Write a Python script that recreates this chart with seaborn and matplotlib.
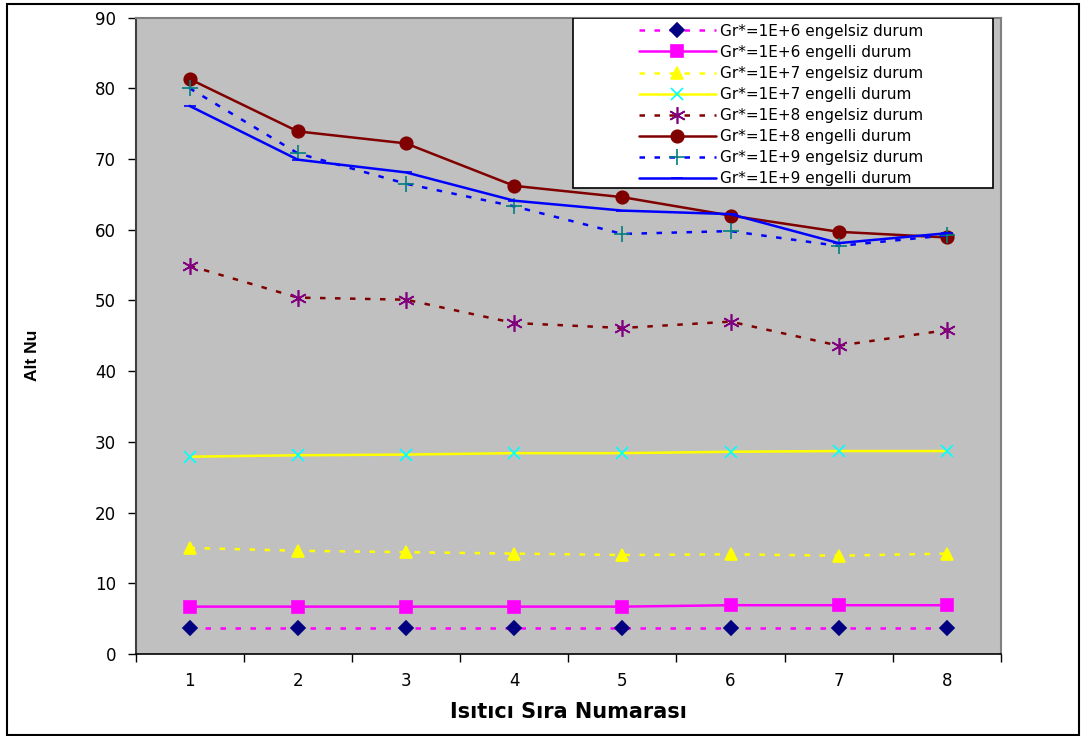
import numpy as np
import pandas as pd
import matplotlib
matplotlib.use("Agg")
import matplotlib.pyplot as plt
from matplotlib.patches import Rectangle
from matplotlib.ticker import FixedLocator, NullFormatter
import seaborn as sns

# Veri
isitici = [1, 2, 3, 4, 5, 6, 7, 8]

gr1e6_engelsiz = [3.7, 3.7, 3.7, 3.7, 3.7, 3.7, 3.7, 3.7]
gr1e6_engelli = [6.7, 6.7, 6.7, 6.7, 6.7, 6.9, 6.9, 6.9]
gr1e7_engelsiz = [15.0, 14.6, 14.4, 14.2, 14.0, 14.1, 13.9, 14.2]
gr1e7_engelli = [27.9, 28.1, 28.2, 28.4, 28.4, 28.6, 28.7, 28.7]
gr1e8_engelsiz = [54.9, 50.4, 50.1, 46.8, 46.1, 47.0, 43.6, 45.8]
gr1e8_engelli = [81.3, 73.9, 72.2, 66.2, 64.6, 62.0, 59.7, 58.9]
gr1e9_engelsiz = [80.0, 70.8, 66.5, 63.3, 59.4, 59.8, 57.7, 59.2]
gr1e9_engelli = [77.5, 69.9, 68.1, 64.1, 62.7, 62.2, 58.1, 59.5]

etiketler = [
    "Gr*=1E+6 engelsiz durum", "Gr*=1E+6 engelli durum",
    "Gr*=1E+7 engelsiz durum", "Gr*=1E+7 engelli durum",
    "Gr*=1E+8 engelsiz durum", "Gr*=1E+8 engelli durum",
    "Gr*=1E+9 engelsiz durum", "Gr*=1E+9 engelli durum",
]
seriler = [gr1e6_engelsiz, gr1e6_engelli, gr1e7_engelsiz, gr1e7_engelli,
           gr1e8_engelsiz, gr1e8_engelli, gr1e9_engelsiz, gr1e9_engelli]

# Çizgi stilleri: (çizgi rengi, çizgi tipi, marker, marker rengi, marker boyutu)
kesik = (0, (2.2, 3.8))
stiller = [
    ("#FF00FF", kesik, "D", "#000080", 7),
    ("#FF00FF", "-", "s", "#FF00FF", 8),
    ("#FFFF00", kesik, "^", "#FFFF00", 9),
    ("#FFFF00", "-", "x", "#00FFFF", 9),
    ("#800000", kesik, (6, 2, 0), "#800080", 12),
    ("#800000", "-", "o", "#800000", 9),
    ("#0000FF", kesik, "+", "#008080", 11),
    ("#0000FF", "-", "_", "#0000FF", 8),
]

sns.set_style("white")
plt.rcParams["font.family"] = ["DejaVu Sans"]
plt.rcParams["text.color"] = "black"
plt.rcParams["axes.labelcolor"] = "black"
plt.rcParams["xtick.color"] = "black"
plt.rcParams["ytick.color"] = "black"

fig = plt.figure(figsize=(10.84, 7.36), dpi=100)
ax = fig.add_axes([0.125, 0.1114, 0.7984, 0.8648])
ax.set_facecolor("#C0C0C0")

for etiket, y, (renk, ls, mk, mrenk, ms) in zip(etiketler, seriler, stiller):
    df = pd.DataFrame({"x": isitici, "y": y})
    sns.lineplot(data=df, x="x", y="y", ax=ax, color=renk, linestyle=ls,
                 linewidth=1.8, marker=mk, markersize=ms,
                 markerfacecolor=mrenk, markeredgecolor=mrenk,
                 markeredgewidth=1.2, label=etiket)

ax.set_xlim(0.5, 8.5)
ax.set_ylim(0, 90)
ax.set_yticks(np.arange(0, 91, 10))
ax.set_xticks(isitici)
ax.xaxis.set_minor_locator(FixedLocator(np.arange(0.5, 9, 1)))
ax.xaxis.set_minor_formatter(NullFormatter())
ax.tick_params(axis="x", which="major", length=0, pad=13, labelsize=12)
ax.tick_params(axis="x", which="minor", length=6, width=1, direction="out",
               bottom=True, color="black")
ax.tick_params(axis="y", length=6, width=1, direction="out", left=True,
               pad=8, labelsize=12, color="black")
ax.grid(False)

ax.set_xlabel("Isıtıcı Sıra Numarası", fontsize=15, fontweight="bold")
ax.set_ylabel("Alt Nu", fontsize=12.5, fontweight="bold",
              family=["Liberation Sans", "DejaVu Sans"])
ax.xaxis.set_label_coords(0.5, -0.076)
ax.yaxis.set_label_coords(-0.11, 0.47)

for s in ["top", "right"]:
    ax.spines[s].set_color("#808080")
    ax.spines[s].set_linewidth(1.5)
ax.spines["left"].set_color("#404040")
ax.spines["left"].set_linewidth(1.5)
ax.spines["bottom"].set_color("black")
ax.spines["bottom"].set_linewidth(1.2)

# Lejant kutusu
kutu = Rectangle((0.5055, 0.7321), 0.4853, 0.2679, transform=ax.transAxes,
                 facecolor="white", edgecolor="black", linewidth=1.2, zorder=4)
ax.add_patch(kutu)
leg = ax.legend(loc="upper left", bbox_to_anchor=(0.575, 1.0), frameon=False,
                fontsize=11, handlelength=5.0, handletextpad=0.3,
                labelspacing=0.4, borderaxespad=0)
leg.set_zorder(5)
for t in leg.get_texts():
    t.set_color("black")

# Dış çerçeve
fig.patches.append(Rectangle((0.00646, 0.00136), 0.98893, 0.99321,
                             transform=fig.transFigure, fill=False,
                             edgecolor="black", linewidth=1.5))

plt.savefig("out.png", dpi=100)
